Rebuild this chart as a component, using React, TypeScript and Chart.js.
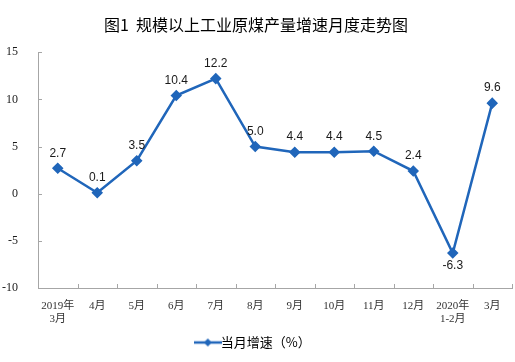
import React, { useEffect, useRef } from "react";
import { Chart, registerables } from "chart.js";

Chart.register(...registerables);

const categories: (string | string[])[] = [
  ["2019年", "3月"], "4月", "5月", "6月", "7月", "8月", "9月", "10月", "11月", "12月", ["2020年", "1-2月"], "3月",
];
const growth: number[] = [2.7, 0.1, 3.5, 10.4, 12.2, 5.0, 4.4, 4.4, 4.5, 2.4, -6.3, 9.6];
const yTicks: number[] = [-10, -5, 0, 5, 10, 15];
const seriesName = "当月增速（%）";
const titleText = "图1  规模以上工业原煤产量增速月度走势图";

const LINE = "#2066BA";
const AXIS = "#A6A6A6";

function legendIcon(): HTMLCanvasElement {
  const c = document.createElement("canvas");
  c.width = 28;
  c.height = 10;
  const ctx = c.getContext("2d")!;
  ctx.strokeStyle = LINE;
  ctx.lineWidth = 2.5;
  ctx.beginPath();
  ctx.moveTo(0, 5);
  ctx.lineTo(28, 5);
  ctx.stroke();
  ctx.fillStyle = LINE;
  ctx.beginPath();
  ctx.moveTo(14, 1);
  ctx.lineTo(18, 5);
  ctx.lineTo(14, 9);
  ctx.lineTo(10, 5);
  ctx.closePath();
  ctx.fill();
  return c;
}

const valueLabels = {
  id: "valueLabels",
  afterDatasetsDraw(chart: any) {
    const ctx = chart.ctx;
    const meta = chart.getDatasetMeta(0);
    ctx.save();
    ctx.font = "12px 'Liberation Sans', Arial, sans-serif";
    ctx.fillStyle = "#1a1a1a";
    ctx.textAlign = "center";
    ctx.textBaseline = "middle";
    meta.data.forEach((pt: any, i: number) => {
      const v = growth[i];
      const y = v < 0 ? pt.y + 13 : pt.y - 15;
      ctx.fillText(v.toFixed(1), pt.x, y);
    });
    ctx.restore();
  },
};

const innerTicks = {
  id: "innerTicks",
  afterDraw(chart: any) {
    const ctx = chart.ctx;
    const xs = chart.scales.x;
    const ys = chart.scales.y;
    const area = chart.chartArea;
    ctx.save();
    ctx.strokeStyle = AXIS;
    ctx.lineWidth = 1;
    const n = categories.length;
    const step = n > 1 ? xs.getPixelForValue(1) - xs.getPixelForValue(0) : xs.width;
    ctx.beginPath();
    for (let i = 0; i <= n; i++) {
      const x = Math.round(xs.getPixelForValue(i) - step / 2) + 0.5;
      ctx.moveTo(x, area.bottom);
      ctx.lineTo(x, area.bottom - 4);
    }
    yTicks.forEach((v) => {
      const y = Math.round(ys.getPixelForValue(v)) + 0.5;
      ctx.moveTo(area.left, y);
      ctx.lineTo(area.left + 4, y);
    });
    ctx.stroke();
    ctx.restore();
  },
};

export default function App() {
  const ref = useRef<HTMLCanvasElement>(null);
  useEffect(() => {
    if (!ref.current) return;
    const icon = legendIcon();
    const chart = new Chart(ref.current, {
      type: "line",
      data: {
        labels: categories,
        datasets: [
          {
            label: seriesName,
            data: growth,
            borderColor: LINE,
            backgroundColor: LINE,
            borderWidth: 2.5,
            pointStyle: "rectRot",
            pointRadius: 4,
            pointBackgroundColor: LINE,
            pointBorderColor: LINE,
            tension: 0,
          },
        ],
      },
      options: {
        responsive: false,
        animation: false,
        layout: { autoPadding: false, padding: { left: 0, right: 3, top: 0, bottom: 3 } },
        plugins: {
          title: {
            display: true,
            text: titleText,
            color: "#000",
            font: { family: "'Noto Sans CJK SC', sans-serif", size: 16, weight: "normal" },
            padding: { top: 15, bottom: 18 },
          },
          legend: {
            display: true,
            position: "bottom",
            labels: {
              usePointStyle: true,
              pointStyle: icon as any,
              color: "#333",
              font: { family: "'Noto Sans CJK SC', sans-serif", size: 13 },
              padding: 7,
              generateLabels: () => [
                {
                  text: seriesName,
                  pointStyle: icon as any,
                  fillStyle: LINE,
                  strokeStyle: LINE,
                  lineWidth: 0,
                  hidden: false,
                  datasetIndex: 0,
                } as any,
              ],
            },
          },
          tooltip: { enabled: false },
        },
        scales: {
          x: {
            offset: true,
            grid: {
              offset: true,
              display: false,
            },
            border: { display: true, color: AXIS, width: 1 },
            ticks: {
              color: "#333",
              font: { family: "'Liberation Serif', 'Noto Sans CJK SC', serif", size: 11, lineHeight: 1.15 },
              maxRotation: 0,
              autoSkip: false,
              padding: 4,
            },
            afterFit: (s: any) => {
              s.height = 41;
              s.paddingLeft = 0;
              s.paddingRight = 0;
            },
          },
          y: {
            min: -10,
            max: 15,
            afterBuildTicks: (s: any) => {
              s.ticks = yTicks.map((v) => ({ value: v }));
            },
            grid: {
              display: false,
            },
            border: { display: true, color: AXIS, width: 1 },
            ticks: {
              color: "#1a1a1a",
              font: { family: "'Liberation Serif', 'Times New Roman', serif", size: 12 },
              padding: 12,
            },
            afterFit: (s: any) => {
              s.width = 38;
            },
          },
        },
      },
      plugins: [valueLabels, innerTicks],
    });
    return () => chart.destroy();
  }, []);
  return (
    <div style={{ position: "fixed", left: 0, top: 0, width: 515, height: 362, background: "#fff" }}>
      <canvas ref={ref} width={515} height={362} />
    </div>
  );
}
